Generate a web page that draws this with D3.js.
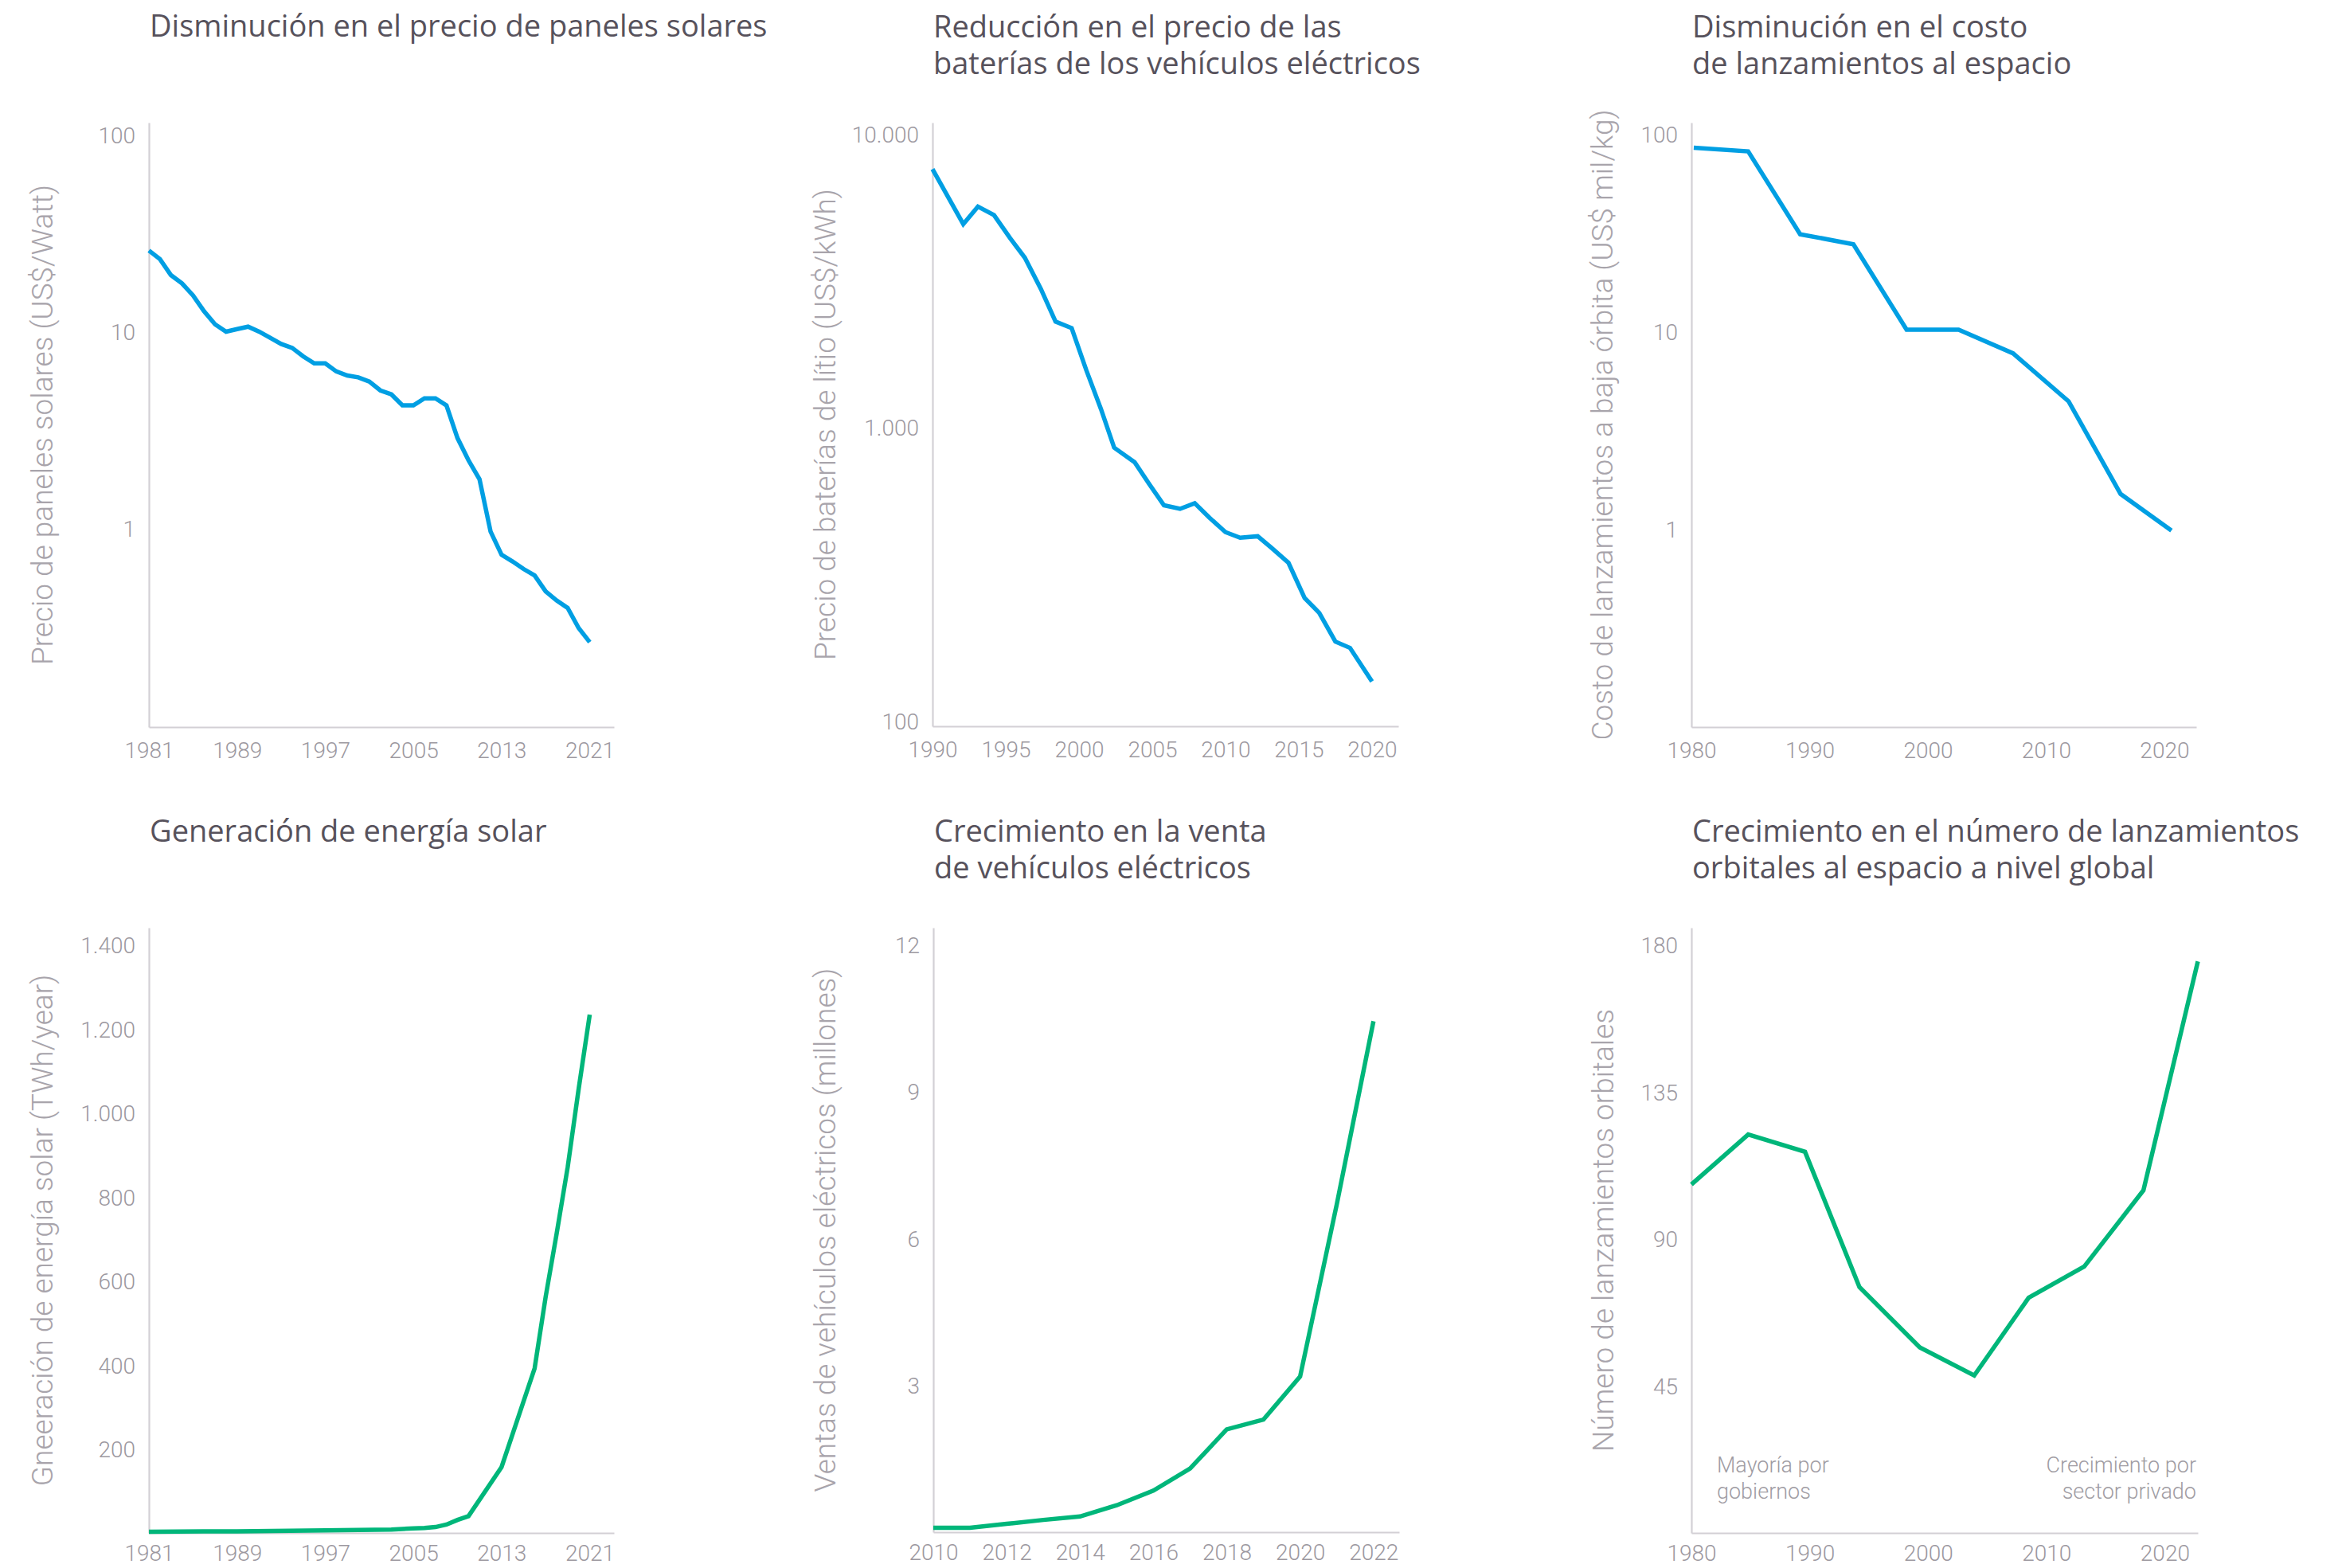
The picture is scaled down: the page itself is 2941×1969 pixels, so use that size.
<!DOCTYPE html>
<html>
<head>
<meta charset="utf-8">
<script src="https://cdn.jsdelivr.net/npm/d3@7"></script>
<style>
  body { margin: 0; background: #fff; }
  svg text { font-family: Roboto, "Open Sans", sans-serif; }
</style>
</head>
<body>
<script>
// 1. precio de paneles solares (US$/Watt), escala log
const solarPriceYears = [1981, 1982, 1983, 1984, 1985, 1986, 1987, 1988, 1989, 1990,
    1991, 1992, 1993, 1994, 1995, 1996, 1997, 1998, 1999, 2000,
    2001, 2002, 2003, 2004, 2005, 2006, 2007, 2008, 2009, 2010,
    2011, 2012, 2013, 2014, 2015, 2016, 2017, 2018, 2019, 2020, 2021];
const solarPriceValues = [25.9, 23.4, 19.4, 17.6, 15.3, 12.7, 10.9, 10.0, 10.3, 10.6,
    10.0, 9.3, 8.65, 8.26, 7.48, 6.89, 6.89, 6.27, 5.98, 5.85,
    5.57, 5.02, 4.79, 4.21, 4.21, 4.57, 4.57, 4.21, 2.87, 2.21,
    1.77, 0.96, 0.73, 0.675, 0.618, 0.573, 0.475, 0.427, 0.391, 0.309, 0.262];

// 2. precio de baterías de litio (US$/kWh), escala log
const batteryYears = [1990.0, 1992.1, 1993.1, 1994.2, 1995.3, 1996.3, 1997.4, 1998.4, 1999.5, 2000.5,
    2001.5, 2002.4, 2003.8, 2004.8, 2005.8, 2006.9, 2007.9, 2008.9, 2010.0, 2011.0,
    2012.2, 2013.2, 2014.3, 2015.4, 2016.4, 2017.5, 2018.5, 2020.0];
const batteryValues = [7580, 4923, 5649, 5284, 4409, 3785, 2958, 2291, 2177, 1564,
    1153, 852, 760, 640, 542, 527, 551, 492, 439, 420,
    425, 386, 345, 262, 233, 186, 177, 136];

// 3. costo de lanzamientos a baja órbita (US$ mil/kg), escala log
const launchCostYears = [1980.2, 1984.8, 1989.2, 1993.7, 1998.2, 2002.6, 2007.2, 2011.9, 2016.3, 2020.6];
const launchCostValues = [85, 81.5, 31, 27.6, 10.2, 10.2, 7.74, 4.42, 1.5, 0.98];

// 4. generación de energía solar (TWh/año)
const solarGenYears = [1981, 1989, 1997, 2003, 2005, 2006, 2007, 2008, 2009, 2010,
    2013, 2016, 2017, 2018, 2019, 2020, 2021];
const solarGenValues = [3, 4, 6, 8, 11, 12, 14, 20, 31, 40,
    157, 392, 562, 713, 871, 1058, 1234];

// 5. ventas de vehículos eléctricos (millones)
const evYears = [2010, 2011, 2012, 2013, 2014, 2015, 2016, 2017, 2018, 2019, 2020, 2021, 2022];
const evValues = [0.09, 0.09, 0.17, 0.25, 0.32, 0.55, 0.85, 1.3, 2.1, 2.3, 3.18, 6.7, 10.44];

// 6. número de lanzamientos orbitales
const launchYears = [1980.0, 1984.8, 1989.6, 1994.2, 1999.3, 2003.9, 2008.5, 2013.2, 2018.2, 2022.8];
const launchValues = [106.7, 122, 116.7, 75.3, 56.8, 48.2, 72, 81.6, 104.9, 175];

// etiquetas de los ejes
const ticksX1 = [1981, 1989, 1997, 2005, 2013, 2021];
const ticksX2 = [1990, 1995, 2000, 2005, 2010, 2015, 2020];
const ticksX3 = [1980, 1990, 2000, 2010, 2020];
const ticksX5 = [2010, 2012, 2014, 2016, 2018, 2020, 2022];
const ticksY1 = [1, 10, 100];
const ticksY2 = [100, 1000, 10000];
const ticksY4 = [200, 400, 600, 800, 1000, 1200, 1400];
const ticksY5 = [3, 6, 9, 12];
const ticksY6 = [45, 90, 135, 180];

const titles = [
    ["Disminución en el precio de paneles solares"],
    ["Reducción en el precio de las", "baterías de los vehículos eléctricos"],
    ["Disminución en el costo", "de lanzamientos al espacio"],
    ["Generación de energía solar"],
    ["Crecimiento en la venta", "de vehículos eléctricos"],
    ["Crecimiento en el número de lanzamientos", "orbitales al espacio a nivel global"]
];
const yTitles = [
    "Precio de paneles solares (US$/Watt)",
    "Precio de baterías de lítio (US$/kWh)",
    "Costo de lanzamientos a baja órbita (US$ mil/kg)",
    "Gneeración de energía solar (TWh/year)",
    "Ventas de vehículos eléctricos (millones)",
    "Número de lanzamientos orbitales"
];
const notesLeft = ["Mayoría por", "gobiernos"];
const notesRight = ["Crecimiento por", "sector privado"];

const BLUE = "#009fe3";
const GREEN = "#00b67a";
const AXIS = "#d3d0d5";
const TICK = "#9c98a0";
const TITLE = "#57525c";

const es = d3.formatLocale({decimal: ",", thousands: ".", grouping: [3], currency: ["$", ""]});
const fmtNum = es.format(",");

let width = 2941;
let height = 1969;

let svg = d3.select("body").append("svg")
    .attr("width", width)
    .attr("height", height)
    .style("display", "block");

svg.append("rect").attr("width", width).attr("height", height).attr("fill", "#fff");

function drawPanel(p) {
    let g = svg.append("g");
    let x = d3.scaleLinear().domain(p.xDomain).range([p.left, p.right]);
    let y = (p.log ? d3.scaleLog() : d3.scaleLinear()).domain(p.yDomain).range([p.bottom, p.top]);

    // title
    let t = g.append("text")
        .attr("x", p.left + 1)
        .attr("y", p.titleY)
        .attr("fill", TITLE)
        .style("font-family", "'Open Sans', Roboto, sans-serif")
        .style("font-size", "38px")
        .style("font-weight", 400);
    p.title.forEach((line, i) => {
        t.append("tspan").attr("x", p.left + 1).attr("dy", i == 0 ? 0 : 46).text(line);
    });

    // axes
    let xAxis = g.append("g")
        .attr("transform", `translate(0,${p.bottom})`)
        .call(d3.axisBottom(x).tickValues(p.xTicks).tickSize(0).tickSizeOuter(0).tickFormat(d3.format("d")));
    let yAxis = g.append("g")
        .attr("transform", `translate(${p.left},0)`)
        .call(d3.axisLeft(y).tickValues(p.yTicks).tickSize(0).tickSizeOuter(0).tickPadding(17).tickFormat(fmtNum));

    for (const a of [xAxis, yAxis]) {
        a.select(".domain").attr("stroke", AXIS).attr("stroke-width", 2.2);
        a.selectAll("text")
            .attr("fill", TICK)
            .style("font-size", "28px")
            .style("font-weight", 300)
            .attr("font-family", null);
    }
    xAxis.selectAll("text").attr("dy", null).attr("y", p.xLabelY);
    yAxis.selectAll("text").attr("dy", "0.36em");

    // y axis title
    g.append("text")
        .attr("transform", `translate(${p.yTitleX},${(p.top + p.bottom) / 2}) rotate(-90)`)
        .attr("text-anchor", "middle")
        .attr("fill", "#a8a4ab")
        .style("font-size", "37px")
        .style("font-weight", 300)
        .text(p.yTitle);

    // line
    let line = d3.line()
        .x((d) => x(d[0]))
        .y((d) => y(d[1]));
    g.append("path")
        .datum(d3.zip(p.xs, p.ys))
        .attr("d", line)
        .attr("fill", "none")
        .attr("stroke", p.color)
        .attr("stroke-width", 5.5);

    return g;
}

let panels = [
    {xs: solarPriceYears, ys: solarPriceValues, xDomain: [1981, 2023.2], yDomain: [0.0968, 116], log: true,
     left: 187, right: 771, top: 154, bottom: 913, xTicks: ticksX1, yTicks: ticksY1, color: BLUE, titleY: 46, yTitleX: 66, xLabelY: 39},
    {xs: batteryYears, ys: batteryValues, xDomain: [1990, 2021.8], yDomain: [95.7, 10915], log: true,
     left: 1171, right: 1756, top: 154, bottom: 912, xTicks: ticksX2, yTicks: ticksY2, color: BLUE, titleY: 47, yTitleX: 1049, xLabelY: 39},
    {xs: launchCostYears, ys: launchCostValues, xDomain: [1980, 2022.7], yDomain: [0.0991, 113.9], log: true,
     left: 2124, right: 2758, top: 154, bottom: 913, xTicks: ticksX3, yTicks: ticksY1, color: BLUE, titleY: 47, yTitleX: 2025, xLabelY: 39},
    {xs: solarGenYears, ys: solarGenValues, xDomain: [1981, 2023.2], yDomain: [0, 1441], log: false,
     left: 187, right: 771, top: 1165, bottom: 1925, xTicks: ticksX1, yTicks: ticksY4, color: GREEN, titleY: 1057, yTitleX: 66, xLabelY: 35},
    {xs: evYears, ys: evValues, xDomain: [2010, 2022.7], yDomain: [0, 12.35], log: false,
     left: 1172, right: 1757, top: 1165, bottom: 1924, xTicks: ticksX5, yTicks: ticksY5, color: GREEN, titleY: 1057, yTitleX: 1049, xLabelY: 35},
    {xs: launchYears, ys: launchValues, xDomain: [1980, 2022.8], yDomain: [0, 185.3], log: false,
     left: 2124, right: 2760, top: 1165, bottom: 1925, xTicks: ticksX3, yTicks: ticksY6, color: GREEN, titleY: 1057, yTitleX: 2026, xLabelY: 35}
];

panels.forEach((p, i) => {
    p.title = titles[i];
    p.yTitle = yTitles[i];
    drawPanel(p);
});

// notas del último panel
function note(lines, xPos, anchor) {
    let t = svg.append("text")
        .attr("x", xPos)
        .attr("y", 1849)
        .attr("text-anchor", anchor)
        .attr("fill", "#a09ca3")
        .style("font-size", "27px")
        .style("font-weight", 300);
    lines.forEach((l, i) => {
        t.append("tspan").attr("x", xPos).attr("dy", i == 0 ? 0 : 33).text(l);
    });
}
note(notesLeft, 2156, "start");
note(notesRight, 2758, "end");
</script>
</body>
</html>
